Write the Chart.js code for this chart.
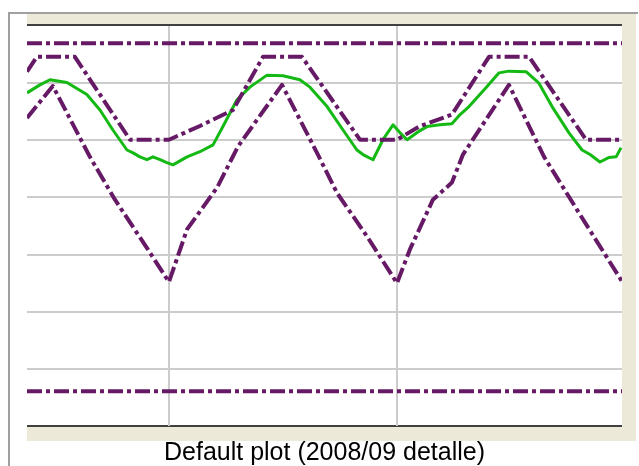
<!DOCTYPE html>
<html>
<head>
<meta charset="utf-8">
<script src="https://cdn.jsdelivr.net/npm/chart.js@4.4.1/dist/chart.umd.min.js"></script>
<style>
  body { margin: 0; background: #fff; }
  #wrap { width: 639px; height: 466px; }
</style>
</head>
<body>
<div id="wrap"><canvas id="grafico" width="639" height="466"></canvas></div>
<script>
// x = months from the start of the 2008/09 period, y = plot units
var xMin = -7.47;
var xMax = 23.84;
var gridMonths = [0, 12];
var gridLevels = [1, 2, 3, 4, 5, 6];

var limitHigh = 6.70;
var limitLow = 0.61;

var upperX = [-7.47, -6.95, -4.95, -2.05, 0, 1.63, 3.37, 4.95, 7.0, 10.05, 12.0, 13.16, 14.89, 16.84, 18.95, 21.95, 23.84];
var upperY = [6.20, 6.46, 6.46, 5.01, 5.01, 5.25, 5.53, 6.46, 6.46, 5.01, 5.01, 5.24, 5.45, 6.46, 6.46, 5.01, 5.01];

var lowerX = [-7.47, -6.11, -4.16, -2.84, -1.11, 0, 0.95, 2.53, 3.63, 5.95, 7.79, 8.84, 10.42, 12.0, 12.68, 13.89, 14.89, 15.47, 17.89, 19.74, 21.63, 23.84];
var lowerY = [5.39, 5.95, 4.71, 3.96, 3.09, 2.52, 3.44, 4.17, 4.89, 5.97, 4.78, 4.08, 3.32, 2.50, 3.09, 3.96, 4.26, 4.75, 5.97, 4.71, 3.70, 2.53];

var medidaX = [-7.47, -6.79, -6.26, -5.37, -4.32, -3.63, -2.95, -2.21, -1.89, -1.53, -1.16, -0.84, -0.47, -0.11, 0.21, 0.95, 1.63, 2.32, 2.84, 3.58, 4.26, 5.16, 6.0, 6.89, 7.42, 8.32, 9.16, 9.89, 10.21, 10.74, 11.26, 11.79, 12.16, 12.53, 13.21, 13.58, 14.26, 14.89, 15.32, 15.79, 16.68, 17.37, 17.89, 18.79, 19.47, 20.16, 21.05, 21.74, 22.16, 22.68, 23.16, 23.53, 23.79];
var medidaY = [5.83, 5.97, 6.06, 6.01, 5.80, 5.53, 5.18, 4.83, 4.78, 4.71, 4.66, 4.71, 4.66, 4.61, 4.57, 4.71, 4.80, 4.92, 5.24, 5.71, 5.93, 6.14, 6.13, 6.06, 5.93, 5.59, 5.18, 4.83, 4.75, 4.66, 5.01, 5.27, 5.13, 5.01, 5.17, 5.24, 5.27, 5.29, 5.45, 5.59, 5.92, 6.18, 6.21, 6.20, 6.00, 5.59, 5.13, 4.83, 4.75, 4.62, 4.70, 4.71, 4.87];

var titulo = 'Default plot (2008/09 detalle)';

function puntos(xs, ys) {
  var out = [];
  for (var i = 0; i < xs.length; i++) {
    out.push({ x: xs[i], y: ys[i] });
  }
  return out;
}

function constante(v) {
  return [{ x: xMin, y: v }, { x: xMax, y: v }];
}

var morado = '#661a66';
var dashDot = [15, 4, 4, 4];

// window frame painted around the plot area
var marco = {
  id: 'marco',
  beforeDraw: function(chart) {
    var ctx = chart.ctx;
    var a = chart.chartArea;
    ctx.save();
    ctx.fillStyle = '#ffffff';
    ctx.fillRect(0, 0, chart.width, chart.height);
    ctx.fillStyle = '#a0a0a0';
    ctx.fillRect(8, 12, 2, chart.height - 12);
    ctx.fillRect(8, 12, 630, 2);
    ctx.fillStyle = '#ece9d8';
    ctx.fillRect(a.left, 14, 636 - a.left, a.top - 14);
    ctx.fillRect(a.right, 14, 636 - a.right, 441 - 14);
    ctx.fillRect(a.left, a.bottom, 636 - a.left, 441 - a.bottom);
    ctx.fillStyle = '#404040';
    ctx.fillRect(a.left, a.top - 2, a.right - a.left, 2);
    ctx.fillRect(a.left, a.bottom - 1, a.right - a.left, 2);
    ctx.restore();
  }
};

var chart = new Chart(document.getElementById('grafico').getContext('2d'), {
  type: 'line',
  data: {
    datasets: [
      { label: 'max', data: constante(limitHigh), borderColor: morado, borderWidth: 4, borderDash: dashDot },
      { label: 'min', data: constante(limitLow), borderColor: morado, borderWidth: 4, borderDash: dashDot },
      { label: 'upper', data: puntos(upperX, upperY), borderColor: morado, borderWidth: 4, borderDash: dashDot },
      { label: 'lower', data: puntos(lowerX, lowerY), borderColor: morado, borderWidth: 4, borderDash: dashDot },
      { label: 'medida', data: puntos(medidaX, medidaY), borderColor: 'rgb(20,185,20)', borderWidth: 3 }
    ]
  },
  options: {
    responsive: false,
    animation: false,
    devicePixelRatio: 1,
    elements: {
      point: { radius: 0 },
      line: { tension: 0, borderCapStyle: 'butt', borderJoinStyle: 'round' }
    },
    layout: {
      padding: { left: 27, top: 26, right: 17, bottom: 0 }
    },
    scales: {
      x: {
        type: 'linear',
        min: xMin,
        max: xMax,
        afterBuildTicks: function(scale) {
          scale.ticks = gridMonths.map(function(v) { return { value: v }; });
        },
        ticks: { display: false },
        border: { display: false },
        grid: { color: '#cccccc', lineWidth: 2, drawTicks: false }
      },
      y: {
        min: 0,
        max: 7,
        afterBuildTicks: function(scale) {
          scale.ticks = gridLevels.map(function(v) { return { value: v }; });
        },
        ticks: { display: false },
        border: { display: false },
        grid: { color: '#cccccc', lineWidth: 2, drawTicks: false }
      }
    },
    plugins: {
      legend: { display: false },
      tooltip: { enabled: false },
      title: {
        display: true,
        text: titulo,
        position: 'bottom',
        color: '#000000',
        font: { family: 'Liberation Sans', size: 25, weight: 'normal', lineHeight: 1 },
        padding: { top: 15, bottom: 0 }
      }
    }
  },
  plugins: [marco]
});
</script>
</body>
</html>
